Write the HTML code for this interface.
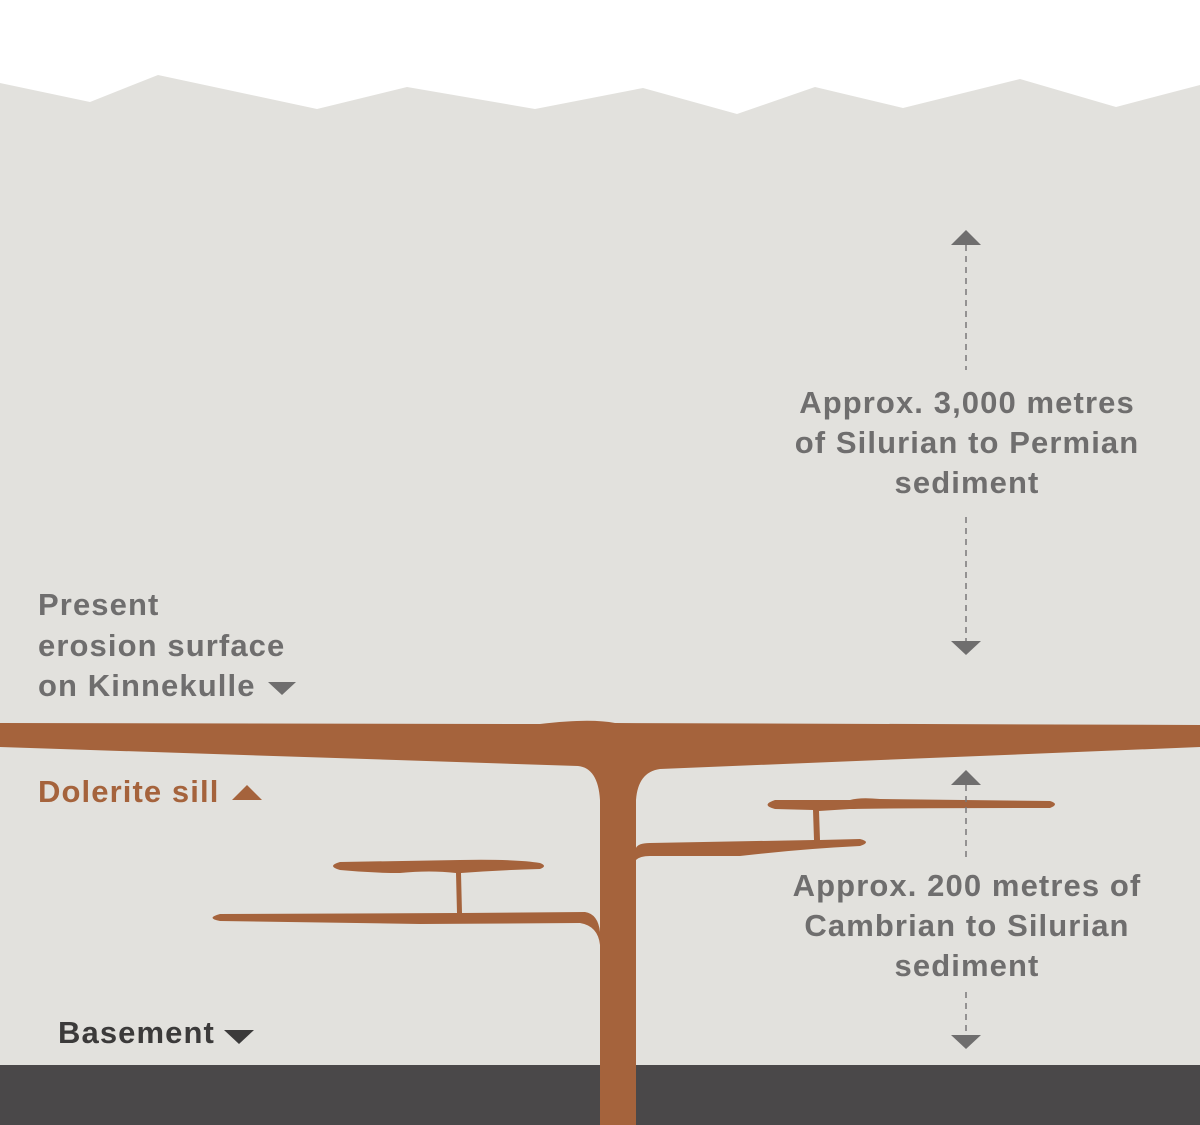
<!DOCTYPE html>
<html><head><meta charset="utf-8"><style>
html,body{margin:0;padding:0;background:#fff}
svg{display:block}
text{font-family:"Liberation Sans",sans-serif;font-size:31px;font-weight:bold;letter-spacing:1.1px}
</style></head><body>
<svg width="1200" height="1125" viewBox="0 0 1200 1125" xmlns="http://www.w3.org/2000/svg">
<polygon fill="#e2e1dd" points="0,83 90,102 158,75 317,109 407,87 535,109 643,88 737,114 815,87 903,108 1020,79 1116,107 1200,85 1200,1125 0,1125"/>
<rect x="0" y="1065" width="1200" height="60" fill="#4a4849"/>
<g fill="#a5633c">
<path d="M0,723 L540,724 Q590,718 615,723 L1200,725 L1200,747 L660,769 Q638,772 636,800 L636,1125 L600,1125 L600,800 Q598,768 578,766 L0,747 Z"/>
<path d="M600,932 Q598,914 585,912 L462,913 L461,873 Q500,870 540,869 Q548,866 540,863 Q515,859 460,860 L340,862 Q326,866 340,870 Q370,873 400,873 Q430,870 456,873 L457,913 L220,914 Q205,918 220,921 L420,924 L580,923 Q598,926 600,945 Z"/>
<path d="M636,860 Q640,856 650,856 L740,856 Q800,849 860,846 Q872,842 860,839 L820,840 L819,811 L850,809 Q900,808 1050,808 Q1060,804 1050,801 L880,799 Q860,797 850,800 L775,800 Q760,805 775,809 L813,810 L814,840 L650,843 Q638,843 636,848 Z"/>
</g>
<g stroke="#7a7979" stroke-width="1.5" stroke-dasharray="6,5" fill="none">
<line x1="966" y1="245" x2="966" y2="370"/>
<line x1="966" y1="517" x2="966" y2="642"/>
<line x1="966" y1="785" x2="966" y2="860"/>
<line x1="966" y1="992" x2="966" y2="1036"/>
</g>
<g fill="#6f6e6e">
<polygon points="951,245 966,230 981,245"/>
<polygon points="951,641 981,641 966,655"/>
<polygon points="951,785 966,770 981,785"/>
<polygon points="951,1035 981,1035 966,1049"/>
<polygon points="268,682 296,682 282,695"/>
</g>
<polygon fill="#a5633c" points="232,800 262,800 247,785"/>
<polygon fill="#3b3a3a" points="224,1030 254,1030 239,1044"/>
<g fill="#6f6e6e" text-anchor="middle">
<text x="967" y="413">Approx. 3,000 metres</text>
<text x="967" y="453">of Silurian to Permian</text>
<text x="967" y="493">sediment</text>
<text x="967" y="896">Approx. 200 metres of</text>
<text x="967" y="936">Cambrian to Silurian</text>
<text x="967" y="976">sediment</text>
</g>
<g fill="#6f6e6e">
<text x="38" y="615">Present</text>
<text x="38" y="656">erosion surface</text>
<text x="38" y="696">on Kinnekulle</text>
</g>
<text x="38" y="802" fill="#a5633c">Dolerite sill</text>
<text x="58" y="1043" fill="#3b3a3a">Basement</text>
</svg>
</body></html>
